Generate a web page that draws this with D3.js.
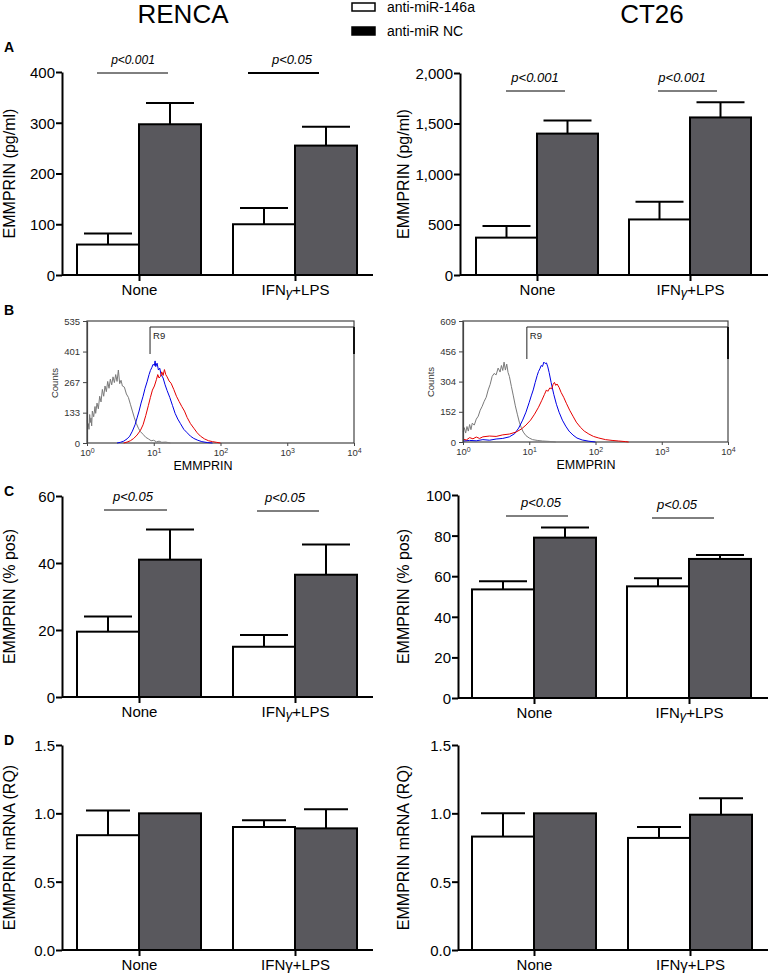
<!DOCTYPE html>
<html>
<head>
<meta charset="utf-8">
<script src="https://cdn.jsdelivr.net/npm/d3@7"></script>
<style>
  body { margin: 0; background: #fff; }
  text { font-family: "Liberation Sans", Arial, sans-serif; }
</style>
</head>
<body>
<script>
// ---------------- DATA ----------------
const groups = ["None", "IFNγ+LPS"];
const seriesNames = ["anti-miR-146a", "anti-miR NC"];
const cellLines = ["RENCA", "CT26"];

// Panel A: EMMPRIN (pg/ml)
const rencaA_146a = [60, 100];
const rencaA_146aErr = [22, 32];
const rencaA_NC = [297, 255];
const rencaA_NCErr = [42, 37];
const ct26A_146a = [370, 550];
const ct26A_146aErr = [115, 175];
const ct26A_NC = [1400, 1560];
const ct26A_NCErr = [130, 150];
const rencaA_pvals = ["p<0.001", "p<0.05"];
const ct26A_pvals = ["p<0.001", "p<0.001"];
const rencaA_ticks = [0, 100, 200, 300, 400];
const ct26A_ticks = [0, 500, 1000, 1500, 2000];

// Panel C: EMMPRIN (% pos)
const rencaC_146a = [19.5, 15];
const rencaC_146aErr = [4.5, 3.5];
const rencaC_NC = [41, 36.5];
const rencaC_NCErr = [9, 9];
const ct26C_146a = [53.5, 55];
const ct26C_146aErr = [4, 4];
const ct26C_NC = [79, 68.5];
const ct26C_NCErr = [5, 2];
const rencaC_pvals = ["p<0.05", "p<0.05"];
const ct26C_pvals = ["p<0.05", "p<0.05"];
const rencaC_ticks = [0, 20, 40, 60];
const ct26C_ticks = [0, 20, 40, 60, 80, 100];

// Panel D: EMMPRIN mRNA (RQ)
const rencaD_146a = [0.84, 0.90];
const rencaD_146aErr = [0.18, 0.05];
const rencaD_NC = [1.00, 0.89];
const rencaD_NCErr = [0, 0.14];
const ct26D_146a = [0.83, 0.82];
const ct26D_146aErr = [0.17, 0.08];
const ct26D_NC = [1.00, 0.99];
const ct26D_NCErr = [0, 0.12];
const D_ticks = [0.0, 0.5, 1.0, 1.5];

// Panel B: flow cytometry histograms, [log10(EMMPRIN), counts]
const histXTicks = [1, 10, 100, 1000, 10000];
const rencaCountTicks = [0, 133, 267, 401, 535];
const ct26CountTicks = [0, 152, 304, 456, 609];
const rencaGate = [8.8, 10000];
const ct26Gate = [9.2, 10000];

const rencaIso = [[0.00,100],[0.01,70],[0.02,85],[0.03,60],[0.04,125],[0.05,90],[0.06,110],[0.07,75],[0.08,140],[0.10,115],[0.12,160],[0.13,130],[0.15,175],[0.17,150],[0.19,205],[0.21,180],[0.23,235],[0.25,205],[0.27,250],[0.29,225],[0.31,270],[0.33,240],[0.35,280],[0.37,255],[0.39,290],[0.41,265],[0.43,300],[0.45,270],[0.47,320],[0.49,260],[0.51,275],[0.53,250],[0.56,245],[0.59,215],[0.62,200],[0.65,170],[0.68,140],[0.71,110],[0.74,85],[0.77,65],[0.80,50],[0.84,38],[0.88,25],[0.92,18],[0.96,10],[1.00,12],[1.04,5],[1.08,8],[1.12,3],[1.18,4],[1.25,0]];
const rencaNC = [[0.45,0],[0.50,3],[0.55,8],[0.60,18],[0.64,30],[0.68,52],[0.72,80],[0.75,110],[0.78,140],[0.81,175],[0.84,205],[0.87,240],[0.90,268],[0.93,300],[0.95,318],[0.97,330],[0.99,345],[1.01,340],[1.02,360],[1.03,335],[1.05,350],[1.07,320],[1.09,328],[1.11,300],[1.14,285],[1.17,255],[1.20,230],[1.24,200],[1.28,165],[1.32,130],[1.36,105],[1.40,85],[1.45,60],[1.50,45],[1.55,30],[1.60,20],[1.66,12],[1.72,6],[1.80,2],[1.88,0]];
const renca146a = [[0.55,0],[0.60,4],[0.65,10],[0.70,20],[0.75,35],[0.80,55],[0.84,80],[0.88,120],[0.92,165],[0.95,200],[0.98,232],[1.01,250],[1.04,278],[1.06,300],[1.08,285],[1.10,292],[1.12,312],[1.14,296],[1.16,322],[1.18,300],[1.20,290],[1.23,272],[1.26,262],[1.30,235],[1.34,205],[1.38,182],[1.42,160],[1.46,140],[1.50,112],[1.55,85],[1.60,65],[1.65,45],[1.70,30],[1.76,18],[1.82,10],[1.88,6],[1.94,3],[2.00,0]];

const ct26Iso = [[0.00,50],[0.02,72],[0.04,45],[0.06,78],[0.08,55],[0.10,88],[0.12,62],[0.14,95],[0.17,85],[0.20,115],[0.23,130],[0.26,160],[0.29,180],[0.32,205],[0.35,225],[0.38,262],[0.41,290],[0.44,330],[0.47,345],[0.50,338],[0.53,372],[0.56,352],[0.58,385],[0.60,360],[0.62,402],[0.64,362],[0.66,392],[0.68,350],[0.70,330],[0.73,280],[0.76,232],[0.79,182],[0.82,140],[0.85,100],[0.88,72],[0.91,50],[0.95,32],[1.00,20],[1.05,12],[1.12,8],[1.20,5],[1.30,3],[1.40,0]];
const ct26NC = [[0.00,5],[0.10,8],[0.20,6],[0.30,12],[0.40,9],[0.50,15],[0.60,18],[0.70,26],[0.78,42],[0.84,70],[0.90,110],[0.95,150],[1.00,200],[1.03,232],[1.06,262],[1.09,300],[1.12,335],[1.14,355],[1.16,368],[1.18,385],[1.20,380],[1.22,402],[1.24,395],[1.26,398],[1.28,378],[1.30,350],[1.33,300],[1.37,240],[1.41,190],[1.45,150],[1.50,110],[1.55,80],[1.60,55],[1.66,35],[1.72,20],[1.80,10],[1.90,4],[2.00,0]];
const ct26_146a = [[0.00,15],[0.05,10],[0.10,22],[0.15,16],[0.20,25],[0.25,18],[0.30,26],[0.40,30],[0.50,28],[0.60,36],[0.70,40],[0.80,50],[0.88,65],[0.95,85],[1.02,110],[1.08,140],[1.14,175],[1.19,210],[1.23,240],[1.26,262],[1.28,255],[1.31,272],[1.34,268],[1.36,290],[1.38,300],[1.40,285],[1.42,292],[1.45,275],[1.48,250],[1.52,225],[1.56,195],[1.61,160],[1.66,130],[1.71,100],[1.77,75],[1.83,55],[1.90,40],[1.97,28],[2.05,20],[2.15,12],[2.25,8],[2.35,5],[2.45,2],[2.50,0]];

// ---------------- DRAWING ----------------
const FONT = '"Liberation Sans", Arial, sans-serif';
const DARK = "#59585d";
const svg = d3.select("body").append("svg").attr("width", 770).attr("height", 977);

// Titles
svg.append("text").attr("x", 183).attr("y", 23).attr("text-anchor", "middle").attr("font-size", 26).text(cellLines[0]);
svg.append("text").attr("x", 652).attr("y", 23).attr("text-anchor", "middle").attr("font-size", 26).text(cellLines[1]);

// Legend
const legendFills = ["#fff", "#000"];
const legendYs = [7, 31];
seriesNames.forEach((s, i) => {
  svg.append("rect").attr("x", 352).attr("y", legendYs[i] - 4).attr("width", 23).attr("height", 8)
    .attr("fill", legendFills[i]).attr("stroke", "#000").attr("stroke-width", 1.5);
  svg.append("text").attr("x", 387).attr("y", legendYs[i] + 5).attr("font-size", 14).text(s);
});

// Panel letters
[["A", 52], ["B", 315], ["C", 496], ["D", 745]].forEach(([l, y]) => {
  svg.append("text").attr("x", 4).attr("y", y).attr("font-size", 14).attr("font-weight", "bold").text(l);
});

function groupLabel(sel, txt, gammaItalic) {
  const parts = txt.split("γ");
  sel.text(null);
  if (parts.length === 1) { sel.text(txt); return; }
  sel.append("tspan").text(parts[0]);
  if (gammaItalic) {
    sel.append("tspan").attr("font-style", "italic").attr("font-size", 13).attr("dy", 2).text("γ");
    sel.append("tspan").attr("dy", -2).text(parts[1]);
  } else {
    sel.append("tspan").text("γ" + parts[1]);
  }
}

function barPanel(o) {
  const g = svg.append("g");
  const y = d3.scaleLinear().domain([0, o.max]).range([o.y0, o.y1]);
  const x = d3.scalePoint().domain(groups).range(o.centers);
  const sub = d3.scaleBand().domain(seriesNames).range([-o.bw, o.bw]);
  const fills = ["#fff", DARK];
  const rows = [];
  groups.forEach((grp, i) => seriesNames.forEach((s, j) => {
    rows.push({ grp, s, j, v: o.vals[j][i], e: o.errs[j][i] });
  }));

  // error bars (upper only)
  const eb = g.selectAll(".err").data(rows.filter(d => d.e > 0)).join("g");
  eb.append("line")
    .attr("x1", d => x(d.grp) + sub(d.s) + sub.bandwidth() / 2)
    .attr("x2", d => x(d.grp) + sub(d.s) + sub.bandwidth() / 2)
    .attr("y1", d => y(d.v)).attr("y2", d => y(d.v + d.e))
    .attr("stroke", "#000").attr("stroke-width", 2);
  eb.append("line")
    .attr("x1", d => x(d.grp) + sub(d.s) + sub.bandwidth() / 2 - o.cap)
    .attr("x2", d => x(d.grp) + sub(d.s) + sub.bandwidth() / 2 + o.cap)
    .attr("y1", d => y(d.v + d.e)).attr("y2", d => y(d.v + d.e))
    .attr("stroke", "#000").attr("stroke-width", 2);

  // bars
  g.selectAll(".bar").data(rows).join("rect")
    .attr("x", d => x(d.grp) + sub(d.s))
    .attr("width", sub.bandwidth())
    .attr("y", d => y(d.v))
    .attr("height", d => y(0) - y(d.v))
    .attr("fill", d => fills[d.j])
    .attr("stroke", "#000").attr("stroke-width", 2);

  // y axis
  const ya = g.append("g").attr("transform", `translate(${o.ax},0)`)
    .call(d3.axisLeft(y).tickValues(o.ticks).tickFormat(o.fmt).tickSize(6).tickSizeOuter(0));
  ya.select(".domain").attr("stroke-width", 2);
  ya.selectAll(".tick line").attr("stroke-width", 2);
  ya.selectAll(".tick text").attr("font-size", 15).attr("font-family", FONT).attr("fill", "#000").attr("x", -7).attr("dy", "0.36em");

  // x axis
  g.append("line").attr("x1", o.ax).attr("x2", o.xEnd).attr("y1", y(0)).attr("y2", y(0))
    .attr("stroke", "#000").attr("stroke-width", 2);
  const xa = g.append("g").attr("transform", `translate(0,${y(0)})`)
    .call(d3.axisBottom(x).tickSize(6).tickSizeOuter(0));
  xa.select(".domain").remove();
  xa.selectAll(".tick line").attr("stroke-width", 2);
  xa.selectAll(".tick text").attr("font-size", 15).attr("font-family", FONT).attr("fill", "#000")
    .attr("y", o.labelDy).attr("dy", 0)
    .each(function (d) { groupLabel(d3.select(this), d, o.gammaItalic); });

  // y title
  g.append("text").attr("transform", `translate(${o.titleX},${(y(0) + y(o.max)) / 2}) rotate(-90)`)
    .attr("text-anchor", "middle").attr("font-size", 16).text(o.title);

  // significance
  if (o.pvals) {
    o.pvals.forEach((p, i) => {
      const cx = x(groups[i]);
      g.append("line").attr("x1", cx - o.sigHalf[i][0]).attr("x2", cx + o.sigHalf[i][1])
        .attr("y1", o.sigY[i]).attr("y2", o.sigY[i]).attr("stroke", "#000").attr("stroke-width", o.sigW[i]);
      g.append("text").attr("x", cx + o.sigText[i]).attr("y", o.sigY[i] - 9).attr("text-anchor", "middle")
        .attr("font-size", o.pSize[i]).attr("font-style", "italic").text(p);
    });
  }
}

const fmtInt = d3.format("d");
const fmtComma = d3.format(",");
const fmt1 = d3.format(".1f");

// Panel A
barPanel({ vals: [rencaA_146a, rencaA_NC], errs: [rencaA_146aErr, rencaA_NCErr], max: 400, y0: 275, y1: 72,
  centers: [139, 295], bw: 62, cap: 24, ax: 62, xEnd: 373, ticks: rencaA_ticks, fmt: fmtInt,
  labelDy: 20, gammaItalic: true, title: "EMMPRIN (pg/ml)", titleX: 15,
  pvals: rencaA_pvals, sigY: [73, 73], sigHalf: [[42, 29], [47, 24]], sigW: [1, 2], sigText: [-6, -3], pSize: [12, 13] });
barPanel({ vals: [ct26A_146a, ct26A_NC], errs: [ct26A_146aErr, ct26A_NCErr], max: 2000, y0: 275, y1: 73,
  centers: [537, 690], bw: 61, cap: 24, ax: 460, xEnd: 768, ticks: ct26A_ticks, fmt: fmtComma,
  labelDy: 20, gammaItalic: true, title: "EMMPRIN (pg/ml)", titleX: 409,
  pvals: ct26A_pvals, sigY: [91, 91], sigHalf: [[31, 28], [32, 27]], sigW: [1, 1], sigText: [-2, -8], pSize: [13, 13] });

// Panel C
barPanel({ vals: [rencaC_146a, rencaC_NC], errs: [rencaC_146aErr, rencaC_NCErr], max: 60, y0: 697, y1: 496,
  centers: [139, 295], bw: 62, cap: 24, ax: 62, xEnd: 373, ticks: rencaC_ticks, fmt: fmtInt,
  labelDy: 20, gammaItalic: true, title: "EMMPRIN (% pos)", titleX: 15,
  pvals: rencaC_pvals, sigY: [510, 511], sigHalf: [[35, 28], [38, 24]], sigW: [1, 1], sigText: [-6, -10], pSize: [13, 13] });
barPanel({ vals: [ct26C_146a, ct26C_NC], errs: [ct26C_146aErr, ct26C_NCErr], max: 100, y0: 698, y1: 495,
  centers: [534, 689], bw: 62, cap: 24, ax: 458, xEnd: 768, ticks: ct26C_ticks, fmt: fmtInt,
  labelDy: 20, gammaItalic: true, title: "EMMPRIN (% pos)", titleX: 409,
  pvals: ct26C_pvals, sigY: [516, 518], sigHalf: [[28, 34], [37, 25]], sigW: [1, 1], sigText: [7, -12], pSize: [13, 13] });

// Panel D
barPanel({ vals: [rencaD_146a, rencaD_NC], errs: [rencaD_146aErr, rencaD_NCErr], max: 1.5, y0: 950, y1: 745,
  centers: [139, 295], bw: 62, cap: 22, ax: 62, xEnd: 373, ticks: D_ticks, fmt: fmt1,
  labelDy: 20, gammaItalic: false, title: "EMMPRIN mRNA (RQ)", titleX: 15 });
barPanel({ vals: [ct26D_146a, ct26D_NC], errs: [ct26D_146aErr, ct26D_NCErr], max: 1.5, y0: 950, y1: 745,
  centers: [534, 690], bw: 62, cap: 22, ax: 458, xEnd: 768, ticks: D_ticks, fmt: fmt1,
  labelDy: 20, gammaItalic: false, title: "EMMPRIN mRNA (RQ)", titleX: 409 });

// Panel B histograms
function histPanel(o) {
  const g = svg.append("g");
  const x = d3.scaleLog().domain([1, 10000]).range([o.x0, o.x1]);
  const y = d3.scaleLinear().domain([0, o.max]).range([o.yb, o.yt]);
  const col = "#333";
  // frame
  g.append("rect").attr("x", o.x0).attr("y", o.yt).attr("width", o.x1 - o.x0).attr("height", o.yb - o.yt)
    .attr("fill", "none").attr("stroke", "#444").attr("stroke-width", 1.2);
  // gate
  const gy = o.yt + 6;
  g.append("line").attr("x1", x(o.gate[0])).attr("x2", x(o.gate[1])).attr("y1", gy).attr("y2", gy).attr("stroke", "#222").attr("stroke-width", 1);
  g.append("line").attr("x1", x(o.gate[0])).attr("x2", x(o.gate[0])).attr("y1", gy).attr("y2", o.gateBottom).attr("stroke", "#222").attr("stroke-width", 1);
  g.append("line").attr("x1", x(o.gate[1])).attr("x2", x(o.gate[1])).attr("y1", gy).attr("y2", o.gateBottom).attr("stroke", "#111").attr("stroke-width", 2);
  g.append("text").attr("x", x(o.gate[0]) + 3).attr("y", gy + 12).attr("font-size", 9.5).attr("fill", "#222").text("R9");
  // curves
  const line = d3.line().x(d => x(Math.pow(10, d[0]))).y(d => y(d[1]));
  [[o.iso, "#7a7a7a"], [o.nc, "#0000e6"], [o.mir, "#e60000"]].forEach(([data, c]) => {
    g.append("path").datum(data).attr("d", line).attr("fill", "none").attr("stroke", c).attr("stroke-width", 1);
  });
  // axes
  const ya = g.append("g").attr("transform", `translate(${o.x0},0)`)
    .call(d3.axisLeft(y).tickValues(o.ticks).tickFormat(d3.format("d")).tickSize(4).tickSizeOuter(0));
  ya.select(".domain").attr("stroke", "#444").attr("stroke-width", 1.2);
  ya.selectAll(".tick line").attr("stroke", "#444");
  ya.selectAll(".tick text").attr("font-size", 9.5).attr("font-family", FONT).attr("fill", col);
  const xa = g.append("g").attr("transform", `translate(0,${o.yb})`)
    .call(d3.axisBottom(x).tickValues(histXTicks).tickSize(3).tickSizeOuter(0));
  xa.select(".domain").remove();
  xa.selectAll(".tick line").attr("stroke", "#444");
  xa.selectAll(".tick text").attr("font-size", 9.5).attr("font-family", FONT).attr("fill", col).attr("y", 6)
    .text(null)
    .each(function (d) {
      const t = d3.select(this);
      t.append("tspan").text("10");
      t.append("tspan").attr("dy", "-0.35em").attr("font-size", 7).text(Math.round(Math.log10(d)));
    });
  g.append("text").attr("x", o.labelX).attr("y", o.yb + 27).attr("text-anchor", "middle").attr("font-size", 12.5).text("EMMPRIN");
  g.append("text").attr("transform", `translate(${o.countsX},${o.countsY}) rotate(-90)`)
    .attr("text-anchor", "middle").attr("font-size", 9.5).attr("fill", col).text("Counts");
}

histPanel({ x0: 87, x1: 354, yt: 321, yb: 443, max: 535, ticks: rencaCountTicks, gate: rencaGate, gateBottom: 354,
  iso: rencaIso, nc: rencaNC, mir: renca146a, countsX: 58, countsY: 383, labelX: 203 });
histPanel({ x0: 463, x1: 728, yt: 321, yb: 442, max: 609, ticks: ct26CountTicks, gate: ct26Gate, gateBottom: 359,
  iso: ct26Iso, nc: ct26NC, mir: ct26_146a, countsX: 434, countsY: 382, labelX: 586 });
</script>
</body>
</html>
